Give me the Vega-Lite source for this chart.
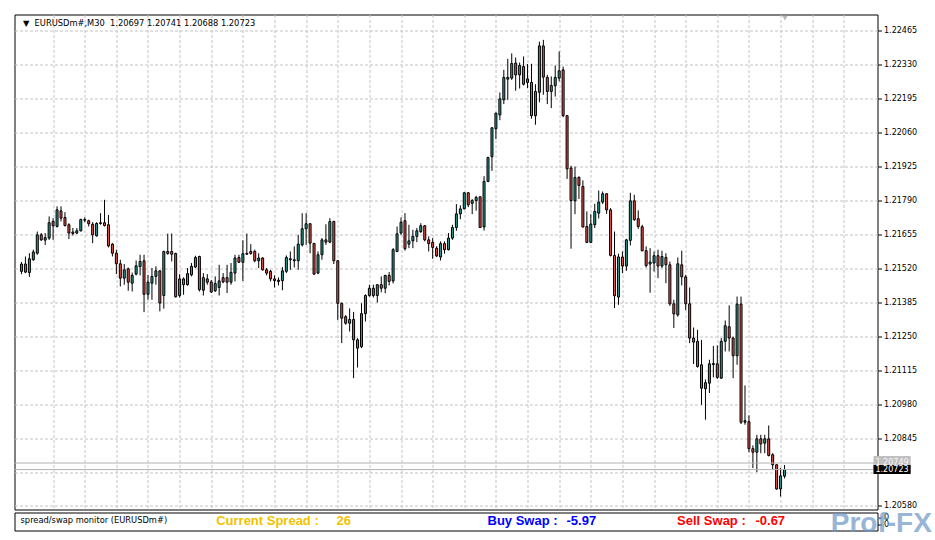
{
"$schema": "https://vega.github.io/schema/vega-lite/v6.json",
"padding": {"left": 13.5, "top": 13.5, "right": 0, "bottom": 0},
"background": "#ffffff",
"spacing": 3,
"bounds": "flush",
"config": {"view": {"stroke": "#000000", "strokeWidth": 1}},
"datasets": {
"bars": [
{"i":1,"o":1.21510,"h":1.21547,"l":1.21499,"c":1.21539},
{"i":2,"o":1.21539,"h":1.21569,"l":1.21503,"c":1.21507},
{"i":3,"o":1.21505,"h":1.21582,"l":1.21488,"c":1.21560},
{"i":4,"o":1.21556,"h":1.21596,"l":1.21552,"c":1.21587},
{"i":5,"o":1.21582,"h":1.21668,"l":1.21576,"c":1.21655},
{"i":6,"o":1.21655,"h":1.21662,"l":1.21631,"c":1.21635},
{"i":7,"o":1.21634,"h":1.21662,"l":1.21615,"c":1.21644},
{"i":8,"o":1.21642,"h":1.21728,"l":1.21635,"c":1.21703},
{"i":9,"o":1.21708,"h":1.21721,"l":1.21635,"c":1.21691},
{"i":10,"o":1.21688,"h":1.21768,"l":1.21684,"c":1.21754},
{"i":11,"o":1.21750,"h":1.21768,"l":1.21708,"c":1.21721},
{"i":12,"o":1.21724,"h":1.21745,"l":1.21688,"c":1.21692},
{"i":13,"o":1.21695,"h":1.21701,"l":1.21638,"c":1.21662},
{"i":14,"o":1.21666,"h":1.21682,"l":1.21652,"c":1.21660},
{"i":15,"o":1.21662,"h":1.21682,"l":1.21658,"c":1.21671},
{"i":16,"o":1.21671,"h":1.21719,"l":1.21668,"c":1.21716},
{"i":17,"o":1.21713,"h":1.21724,"l":1.21705,"c":1.21716},
{"i":18,"o":1.21711,"h":1.21715,"l":1.21688,"c":1.21699},
{"i":19,"o":1.21697,"h":1.21705,"l":1.21622,"c":1.21655},
{"i":20,"o":1.21651,"h":1.21705,"l":1.21648,"c":1.21700},
{"i":21,"o":1.21700,"h":1.21741,"l":1.21695,"c":1.21703},
{"i":22,"o":1.21703,"h":1.21794,"l":1.21688,"c":1.21692},
{"i":23,"o":1.21695,"h":1.21734,"l":1.21605,"c":1.21611},
{"i":24,"o":1.21618,"h":1.21622,"l":1.21569,"c":1.21582},
{"i":25,"o":1.21582,"h":1.21596,"l":1.21499,"c":1.21540},
{"i":26,"o":1.21540,"h":1.21556,"l":1.21450,"c":1.21483},
{"i":27,"o":1.21483,"h":1.21539,"l":1.21457,"c":1.21516},
{"i":28,"o":1.21520,"h":1.21525,"l":1.21433,"c":1.21467},
{"i":29,"o":1.21463,"h":1.21505,"l":1.21430,"c":1.21494},
{"i":30,"o":1.21499,"h":1.21553,"l":1.21494,"c":1.21532},
{"i":31,"o":1.21529,"h":1.21576,"l":1.21494,"c":1.21549},
{"i":32,"o":1.21552,"h":1.21576,"l":1.21348,"c":1.21419},
{"i":33,"o":1.21419,"h":1.21496,"l":1.21397,"c":1.21467},
{"i":34,"o":1.21463,"h":1.21523,"l":1.21397,"c":1.21490},
{"i":35,"o":1.21490,"h":1.21530,"l":1.21457,"c":1.21512},
{"i":36,"o":1.21512,"h":1.21515,"l":1.21351,"c":1.21384},
{"i":37,"o":1.21414,"h":1.21592,"l":1.21362,"c":1.21589},
{"i":38,"o":1.21589,"h":1.21660,"l":1.21576,"c":1.21581},
{"i":39,"o":1.21589,"h":1.21660,"l":1.21549,"c":1.21578},
{"i":40,"o":1.21581,"h":1.21584,"l":1.21406,"c":1.21409},
{"i":41,"o":1.21414,"h":1.21499,"l":1.21406,"c":1.21480},
{"i":42,"o":1.21480,"h":1.21486,"l":1.21417,"c":1.21457},
{"i":43,"o":1.21457,"h":1.21523,"l":1.21453,"c":1.21501},
{"i":44,"o":1.21496,"h":1.21543,"l":1.21490,"c":1.21530},
{"i":45,"o":1.21527,"h":1.21572,"l":1.21523,"c":1.21565},
{"i":46,"o":1.21569,"h":1.21572,"l":1.21430,"c":1.21437},
{"i":47,"o":1.21435,"h":1.21503,"l":1.21414,"c":1.21485},
{"i":48,"o":1.21480,"h":1.21499,"l":1.21457,"c":1.21467},
{"i":49,"o":1.21468,"h":1.21476,"l":1.21424,"c":1.21428},
{"i":50,"o":1.21433,"h":1.21490,"l":1.21428,"c":1.21462},
{"i":51,"o":1.21446,"h":1.21536,"l":1.21414,"c":1.21472},
{"i":52,"o":1.21485,"h":1.21503,"l":1.21463,"c":1.21468},
{"i":53,"o":1.21485,"h":1.21536,"l":1.21424,"c":1.21467},
{"i":54,"o":1.21467,"h":1.21543,"l":1.21457,"c":1.21506},
{"i":55,"o":1.21503,"h":1.21576,"l":1.21470,"c":1.21563},
{"i":56,"o":1.21565,"h":1.21576,"l":1.21543,"c":1.21546},
{"i":57,"o":1.21546,"h":1.21633,"l":1.21472,"c":1.21580},
{"i":58,"o":1.21578,"h":1.21660,"l":1.21576,"c":1.21581},
{"i":59,"o":1.21589,"h":1.21618,"l":1.21576,"c":1.21581},
{"i":60,"o":1.21589,"h":1.21596,"l":1.21546,"c":1.21552},
{"i":61,"o":1.21552,"h":1.21582,"l":1.21523,"c":1.21563},
{"i":62,"o":1.21563,"h":1.21566,"l":1.21513,"c":1.21516},
{"i":63,"o":1.21516,"h":1.21523,"l":1.21494,"c":1.21503},
{"i":64,"o":1.21510,"h":1.21516,"l":1.21470,"c":1.21480},
{"i":65,"o":1.21480,"h":1.21494,"l":1.21446,"c":1.21473},
{"i":66,"o":1.21475,"h":1.21486,"l":1.21454,"c":1.21470},
{"i":67,"o":1.21473,"h":1.21527,"l":1.21435,"c":1.21512},
{"i":68,"o":1.21510,"h":1.21573,"l":1.21503,"c":1.21565},
{"i":69,"o":1.21556,"h":1.21589,"l":1.21516,"c":1.21560},
{"i":70,"o":1.21552,"h":1.21609,"l":1.21525,"c":1.21556},
{"i":71,"o":1.21552,"h":1.21655,"l":1.21516,"c":1.21618},
{"i":72,"o":1.21615,"h":1.21741,"l":1.21609,"c":1.21679},
{"i":73,"o":1.21679,"h":1.21741,"l":1.21615,"c":1.21699},
{"i":74,"o":1.21699,"h":1.21701,"l":1.21582,"c":1.21622},
{"i":75,"o":1.21621,"h":1.21622,"l":1.21496,"c":1.21499},
{"i":76,"o":1.21503,"h":1.21589,"l":1.21499,"c":1.21576},
{"i":77,"o":1.21576,"h":1.21642,"l":1.21556,"c":1.21635},
{"i":78,"o":1.21635,"h":1.21697,"l":1.21615,"c":1.21626},
{"i":79,"o":1.21626,"h":1.21721,"l":1.21622,"c":1.21708},
{"i":80,"o":1.21708,"h":1.21711,"l":1.21539,"c":1.21552},
{"i":81,"o":1.21552,"h":1.21555,"l":1.21317,"c":1.21383},
{"i":82,"o":1.21383,"h":1.21386,"l":1.21225,"c":1.21324},
{"i":83,"o":1.21330,"h":1.21336,"l":1.21298,"c":1.21304},
{"i":84,"o":1.21304,"h":1.21363,"l":1.21271,"c":1.21319},
{"i":85,"o":1.21319,"h":1.21349,"l":1.21086,"c":1.21238},
{"i":86,"o":1.21238,"h":1.21245,"l":1.21128,"c":1.21205},
{"i":87,"o":1.21211,"h":1.21383,"l":1.21205,"c":1.21342},
{"i":88,"o":1.21342,"h":1.21419,"l":1.21311,"c":1.21414},
{"i":89,"o":1.21414,"h":1.21457,"l":1.21409,"c":1.21443},
{"i":90,"o":1.21443,"h":1.21457,"l":1.21406,"c":1.21414},
{"i":91,"o":1.21414,"h":1.21459,"l":1.21386,"c":1.21457},
{"i":92,"o":1.21457,"h":1.21490,"l":1.21427,"c":1.21443},
{"i":93,"o":1.21443,"h":1.21496,"l":1.21423,"c":1.21494},
{"i":94,"o":1.21494,"h":1.21507,"l":1.21454,"c":1.21470},
{"i":95,"o":1.21472,"h":1.21602,"l":1.21462,"c":1.21596},
{"i":96,"o":1.21589,"h":1.21688,"l":1.21586,"c":1.21659},
{"i":97,"o":1.21662,"h":1.21724,"l":1.21655,"c":1.21705},
{"i":98,"o":1.21711,"h":1.21741,"l":1.21592,"c":1.21600},
{"i":99,"o":1.21618,"h":1.21695,"l":1.21602,"c":1.21631},
{"i":100,"o":1.21631,"h":1.21675,"l":1.21602,"c":1.21649},
{"i":101,"o":1.21649,"h":1.21682,"l":1.21626,"c":1.21671},
{"i":102,"o":1.21668,"h":1.21701,"l":1.21662,"c":1.21691},
{"i":103,"o":1.21691,"h":1.21694,"l":1.21629,"c":1.21635},
{"i":104,"o":1.21635,"h":1.21649,"l":1.21589,"c":1.21620},
{"i":105,"o":1.21625,"h":1.21642,"l":1.21560,"c":1.21605},
{"i":106,"o":1.21602,"h":1.21610,"l":1.21567,"c":1.21571},
{"i":107,"o":1.21567,"h":1.21629,"l":1.21553,"c":1.21620},
{"i":108,"o":1.21620,"h":1.21629,"l":1.21580,"c":1.21596},
{"i":109,"o":1.21596,"h":1.21662,"l":1.21593,"c":1.21642},
{"i":110,"o":1.21642,"h":1.21695,"l":1.21635,"c":1.21684},
{"i":111,"o":1.21684,"h":1.21777,"l":1.21671,"c":1.21738},
{"i":112,"o":1.21738,"h":1.21772,"l":1.21717,"c":1.21758},
{"i":113,"o":1.21758,"h":1.21825,"l":1.21756,"c":1.21822},
{"i":114,"o":1.21822,"h":1.21825,"l":1.21765,"c":1.21774},
{"i":115,"o":1.21780,"h":1.21797,"l":1.21737,"c":1.21791},
{"i":116,"o":1.21791,"h":1.21810,"l":1.21751,"c":1.21803},
{"i":117,"o":1.21806,"h":1.21808,"l":1.21682,"c":1.21684},
{"i":118,"o":1.21686,"h":1.21888,"l":1.21672,"c":1.21867},
{"i":119,"o":1.21867,"h":1.21965,"l":1.21864,"c":1.21962},
{"i":120,"o":1.21965,"h":1.22081,"l":1.21909,"c":1.22080},
{"i":121,"o":1.22076,"h":1.22140,"l":1.22035,"c":1.22138},
{"i":122,"o":1.22131,"h":1.22220,"l":1.22110,"c":1.22195},
{"i":123,"o":1.22191,"h":1.22310,"l":1.22174,"c":1.22280},
{"i":124,"o":1.22273,"h":1.22354,"l":1.22191,"c":1.22280},
{"i":125,"o":1.22277,"h":1.22375,"l":1.22270,"c":1.22335},
{"i":126,"o":1.22337,"h":1.22359,"l":1.22227,"c":1.22290},
{"i":127,"o":1.22290,"h":1.22339,"l":1.22236,"c":1.22327},
{"i":128,"o":1.22323,"h":1.22363,"l":1.22248,"c":1.22253},
{"i":129,"o":1.22260,"h":1.22333,"l":1.22237,"c":1.22274},
{"i":130,"o":1.22260,"h":1.22334,"l":1.22116,"c":1.22128},
{"i":131,"o":1.22128,"h":1.22253,"l":1.22092,"c":1.22224},
{"i":132,"o":1.22221,"h":1.22422,"l":1.22181,"c":1.22405},
{"i":133,"o":1.22405,"h":1.22429,"l":1.22211,"c":1.22281},
{"i":134,"o":1.22280,"h":1.22290,"l":1.22174,"c":1.22224},
{"i":135,"o":1.22224,"h":1.22284,"l":1.22158,"c":1.22248},
{"i":136,"o":1.22247,"h":1.22327,"l":1.22204,"c":1.22280},
{"i":137,"o":1.22277,"h":1.22383,"l":1.22264,"c":1.22306},
{"i":138,"o":1.22310,"h":1.22323,"l":1.22122,"c":1.22128},
{"i":139,"o":1.22128,"h":1.22131,"l":1.21877,"c":1.21917},
{"i":140,"o":1.21920,"h":1.21929,"l":1.21600,"c":1.21791},
{"i":141,"o":1.21790,"h":1.21926,"l":1.21737,"c":1.21883},
{"i":142,"o":1.21883,"h":1.21887,"l":1.21797,"c":1.21851},
{"i":143,"o":1.21847,"h":1.21871,"l":1.21684,"c":1.21686},
{"i":144,"o":1.21688,"h":1.21748,"l":1.21622,"c":1.21625},
{"i":145,"o":1.21625,"h":1.21737,"l":1.21622,"c":1.21698},
{"i":146,"o":1.21695,"h":1.21778,"l":1.21682,"c":1.21748},
{"i":147,"o":1.21741,"h":1.21831,"l":1.21720,"c":1.21785},
{"i":148,"o":1.21785,"h":1.21827,"l":1.21777,"c":1.21818},
{"i":149,"o":1.21818,"h":1.21820,"l":1.21738,"c":1.21754},
{"i":150,"o":1.21754,"h":1.21761,"l":1.21569,"c":1.21573},
{"i":151,"o":1.21573,"h":1.21668,"l":1.21364,"c":1.21413},
{"i":152,"o":1.21408,"h":1.21580,"l":1.21377,"c":1.21567},
{"i":153,"o":1.21567,"h":1.21589,"l":1.21503,"c":1.21531},
{"i":154,"o":1.21531,"h":1.21639,"l":1.21512,"c":1.21635},
{"i":155,"o":1.21633,"h":1.21822,"l":1.21613,"c":1.21790},
{"i":156,"o":1.21790,"h":1.21814,"l":1.21711,"c":1.21715},
{"i":157,"o":1.21719,"h":1.21752,"l":1.21679,"c":1.21688},
{"i":158,"o":1.21687,"h":1.21695,"l":1.21589,"c":1.21592},
{"i":159,"o":1.21592,"h":1.21609,"l":1.21525,"c":1.21533},
{"i":160,"o":1.21539,"h":1.21602,"l":1.21425,"c":1.21547},
{"i":161,"o":1.21543,"h":1.21589,"l":1.21509,"c":1.21572},
{"i":162,"o":1.21572,"h":1.21596,"l":1.21483,"c":1.21531},
{"i":163,"o":1.21531,"h":1.21592,"l":1.21523,"c":1.21569},
{"i":164,"o":1.21565,"h":1.21582,"l":1.21463,"c":1.21536},
{"i":165,"o":1.21536,"h":1.21549,"l":1.21373,"c":1.21381},
{"i":166,"o":1.21381,"h":1.21397,"l":1.21285,"c":1.21341},
{"i":167,"o":1.21337,"h":1.21565,"l":1.21330,"c":1.21540},
{"i":168,"o":1.21536,"h":1.21592,"l":1.21454,"c":1.21488},
{"i":169,"o":1.21488,"h":1.21496,"l":1.21356,"c":1.21381},
{"i":170,"o":1.21381,"h":1.21446,"l":1.21225,"c":1.21245},
{"i":171,"o":1.21245,"h":1.21287,"l":1.21142,"c":1.21229},
{"i":172,"o":1.21232,"h":1.21278,"l":1.21128,"c":1.21132},
{"i":173,"o":1.21139,"h":1.21238,"l":1.20980,"c":1.21046},
{"i":174,"o":1.21044,"h":1.21081,"l":1.20921,"c":1.21068},
{"i":175,"o":1.21066,"h":1.21159,"l":1.21027,"c":1.21143},
{"i":176,"o":1.21140,"h":1.21214,"l":1.21089,"c":1.21144},
{"i":177,"o":1.21143,"h":1.21216,"l":1.21083,"c":1.21089},
{"i":178,"o":1.21086,"h":1.21245,"l":1.21083,"c":1.21232},
{"i":179,"o":1.21232,"h":1.21315,"l":1.21192,"c":1.21294},
{"i":180,"o":1.21290,"h":1.21375,"l":1.21192,"c":1.21245},
{"i":181,"o":1.21245,"h":1.21251,"l":1.21086,"c":1.21175},
{"i":182,"o":1.21175,"h":1.21410,"l":1.21139,"c":1.21380},
{"i":183,"o":1.21380,"h":1.21410,"l":1.20904,"c":1.20911},
{"i":184,"o":1.20911,"h":1.21057,"l":1.20901,"c":1.20917},
{"i":185,"o":1.20913,"h":1.20938,"l":1.20792,"c":1.20806},
{"i":186,"o":1.20806,"h":1.20819,"l":1.20729,"c":1.20792},
{"i":187,"o":1.20792,"h":1.20861,"l":1.20713,"c":1.20845},
{"i":188,"o":1.20845,"h":1.20861,"l":1.20788,"c":1.20825},
{"i":189,"o":1.20828,"h":1.20861,"l":1.20788,"c":1.20845},
{"i":190,"o":1.20845,"h":1.20898,"l":1.20775,"c":1.20779},
{"i":191,"o":1.20782,"h":1.20788,"l":1.20722,"c":1.20742},
{"i":192,"o":1.20742,"h":1.20745,"l":1.20643,"c":1.20646},
{"i":193,"o":1.20646,"h":1.20729,"l":1.20616,"c":1.20698},
{"i":194,"o":1.20697,"h":1.20741,"l":1.20688,"c":1.20723}
],
"quotes": [{"kind":"ask","price":1.20749},{"kind":"bid","price":1.20723}],
"header": [{"symbol":"EURUSDm#,M30","o":"1.20697","h":"1.20741","l":"1.20688","c":"1.20723"}],
"monitor": [
{"label":"Current Spread :","value":"26"},
{"label":"Buy Swap :","value":"-5.97"},
{"label":"Sell Swap :","value":"-0.67"}
]
},
"vconcat": [
{
"width": 863,
"height": 495,
"layer": [
{
"data": {"name": "bars"},
"mark": {"type": "rule", "color": "#000000", "strokeWidth": 1},
"encoding": {
"x": {"field": "i", "type": "quantitative", "title": null, "scale": {"domain": [0.5, 216.25], "nice": false, "zero": false},
"axis": {"orient": "bottom", "values": [9,17,25,33,41,49,57,65,73,81,89,97,105,113,121,129,137,145,153,161,169,177,185,193,201,209], "tickCount": 60, "grid": true, "gridColor": "#c4c4c4", "gridDash": [3,2], "gridWidth": 1, "labels": false, "ticks": false, "domain": false, "title": null}},
"y": {"field": "l", "type": "quantitative", "title": null, "scale": {"domain": [1.205645, 1.225297], "nice": false, "zero": false},
"axis": {"orient": "right", "values": [1.22465,1.2233,1.22195,1.2206,1.21925,1.2179,1.21655,1.2152,1.21385,1.2125,1.21115,1.2098,1.20845,1.2071,1.2058], "tickCount": 40, "labelExpr": "abs(datum.value - 1.2071) < 0.00001 ? '' : format(datum.value, '.5f')", "labelOverlap": false, "labelBound": false, "labelFlush": false, "grid": true, "gridColor": "#c4c4c4", "gridDash": [3,2], "gridWidth": 1, "domain": false, "ticks": true, "tickSize": 4, "tickColor": "#000000", "labelPadding": 2, "labelFont": "DejaVu Sans", "labelFontSize": 8, "labelColor": "#000000", "title": null}},
"y2": {"field": "h"}
}
},
{
"data": {"name": "bars"},
"mark": {"type": "bar", "size": 2, "stroke": "#000000", "strokeWidth": 1},
"encoding": {
"x": {"field": "i", "type": "quantitative", "title": null},
"y": {"field": "o", "type": "quantitative", "title": null},
"y2": {"field": "c"},
"color": {"condition": {"test": "datum.c >= datum.o", "value": "#2a9d8f"}, "value": "#e5534b"}
}
},
{
"data": {"name": "quotes"},
"mark": {"type": "rule", "color": "#b4b4b4", "strokeWidth": 1},
"encoding": {"y": {"field": "price", "type": "quantitative", "title": null}}
},
{
"data": {"name": "header"},
"mark": {"type": "text", "align": "left", "baseline": "alphabetic", "font": "DejaVu Sans", "fontSize": 8.3, "color": "#000000"},
"encoding": {"x": {"datum": 1.375, "type": "quantitative"}, "y": {"datum": 1.22486, "type": "quantitative"},
"text": {"value": "▼\u00a0\u00a0EURUSDm#,M30\u00a0\u00a01.20697 1.20741 1.20688 1.20723"}}
},
{
"data": {"values": [{}]},
"mark": {"type": "point", "shape": "triangle-down", "filled": true, "size": 30, "color": "#b8b8b8", "opacity": 1},
"encoding": {"x": {"datum": 194.1, "type": "quantitative"}, "y": {"datum": 1.22515, "type": "quantitative"}}
},
{
"data": {"name": "quotes"},
"transform": [{"filter": "datum.kind == 'ask'"}],
"mark": {"type": "rect", "color": "#c0c0c0"},
"encoding": {"x": {"datum": 216.5, "type": "quantitative"}, "x2": {"datum": 225.9}, "y": {"datum": 1.20777, "type": "quantitative"}, "y2": {"datum": 1.20728}}
},
{
"data": {"name": "quotes"},
"transform": [{"filter": "datum.kind == 'ask'"}],
"mark": {"type": "text", "align": "left", "baseline": "middle", "font": "DejaVu Sans", "fontSize": 8, "color": "#f4f4f4", "dx": 2},
"encoding": {"x": {"datum": 216.5, "type": "quantitative"}, "y": {"field": "price", "type": "quantitative", "title": null}, "text": {"field": "price", "type": "quantitative", "format": ".5f"}}
},
{
"data": {"name": "quotes"},
"transform": [{"filter": "datum.kind == 'bid'"}],
"mark": {"type": "rect", "color": "#000000"},
"encoding": {"x": {"datum": 216.5, "type": "quantitative"}, "x2": {"datum": 225.9}, "y": {"datum": 1.20741, "type": "quantitative"}, "y2": {"datum": 1.207055}}
},
{
"data": {"name": "quotes"},
"transform": [{"filter": "datum.kind == 'bid'"}],
"mark": {"type": "text", "align": "left", "baseline": "middle", "font": "DejaVu Sans", "fontSize": 8, "color": "#ffffff", "dx": 2},
"encoding": {"x": {"datum": 216.5, "type": "quantitative"}, "y": {"field": "price", "type": "quantitative", "title": null}, "text": {"field": "price", "type": "quantitative", "format": ".5f"}}
}
]
},
{
"width": 863,
"height": 18,
"layer": [
{
"data": {"values": [{"name": "spread/swap monitor (EURUSDm#)"}]},
"mark": {"type": "text", "align": "left", "baseline": "middle", "font": "DejaVu Sans", "fontSize": 8.3, "color": "#000000"},
"encoding": {
"x": {"datum": 0.7, "type": "quantitative", "scale": {"domain": [0, 100], "nice": false, "zero": false},
"axis": {"labels": false, "ticks": false, "domain": false, "grid": false, "title": null}},
"y": {"datum": 0.43, "type": "quantitative", "scale": {"domain": [-0.857, 1.714], "nice": false, "zero": false},
"axis": {"orient": "right", "values": [0, 1], "tickCount": 10, "labelExpr": "'0'", "labelOverlap": false, "labelBound": false, "labelFlush": false, "grid": false, "domain": false, "ticks": true, "tickSize": 4, "tickColor": "#000000", "labelPadding": 2, "labelFont": "DejaVu Sans", "labelFontSize": 8, "labelColor": "#000000", "title": null}},
"text": {"field": "name", "type": "nominal"}
}
},
{
"data": {"name": "monitor"},
"transform": [{"filter": "datum.label == 'Current Spread :'"}],
"layer": [
{"mark": {"type": "text", "align": "left", "baseline": "middle", "font": "Liberation Sans", "fontSize": 13, "fontWeight": "bold", "color": "#f2c200"},
"encoding": {"x": {"datum": 23.37, "type": "quantitative"}, "y": {"datum": 0.43, "type": "quantitative"}, "text": {"field": "label", "type": "nominal"}}},
{"mark": {"type": "text", "align": "left", "baseline": "middle", "font": "Liberation Sans", "fontSize": 13, "fontWeight": "bold", "color": "#f2c200"},
"encoding": {"x": {"datum": 37.31, "type": "quantitative"}, "y": {"datum": 0.43, "type": "quantitative"}, "text": {"field": "value", "type": "nominal"}}}
]
},
{
"data": {"name": "monitor"},
"transform": [{"filter": "datum.label == 'Buy Swap :'"}],
"layer": [
{"mark": {"type": "text", "align": "left", "baseline": "middle", "font": "Liberation Sans", "fontSize": 13, "fontWeight": "bold", "color": "#0000ff"},
"encoding": {"x": {"datum": 54.81, "type": "quantitative"}, "y": {"datum": 0.43, "type": "quantitative"}, "text": {"field": "label", "type": "nominal"}}},
{"mark": {"type": "text", "align": "left", "baseline": "middle", "font": "Liberation Sans", "fontSize": 13, "fontWeight": "bold", "color": "#0000ff"},
"encoding": {"x": {"datum": 63.96, "type": "quantitative"}, "y": {"datum": 0.43, "type": "quantitative"}, "text": {"field": "value", "type": "nominal"}}}
]
},
{
"data": {"name": "monitor"},
"transform": [{"filter": "datum.label == 'Sell Swap :'"}],
"layer": [
{"mark": {"type": "text", "align": "left", "baseline": "middle", "font": "Liberation Sans", "fontSize": 13, "fontWeight": "bold", "color": "#ff0000"},
"encoding": {"x": {"datum": 76.78, "type": "quantitative"}, "y": {"datum": 0.43, "type": "quantitative"}, "text": {"field": "label", "type": "nominal"}}},
{"mark": {"type": "text", "align": "left", "baseline": "middle", "font": "Liberation Sans", "fontSize": 13, "fontWeight": "bold", "color": "#ff0000"},
"encoding": {"x": {"datum": 85.86, "type": "quantitative"}, "y": {"datum": 0.43, "type": "quantitative"}, "text": {"field": "value", "type": "nominal"}}}
]
},
{
"data": {"values": [{"brand": "Prof-FX"}]},
"mark": {"type": "text", "align": "right", "baseline": "alphabetic", "font": "Liberation Sans", "fontSize": 28, "fontWeight": "bold", "color": "#6d97c6", "opacity": 0.7},
"encoding": {"x": {"datum": 106.3, "type": "quantitative"}, "y": {"datum": -1.07, "type": "quantitative"}, "text": {"field": "brand", "type": "nominal"}}
}
]
}
]
}
